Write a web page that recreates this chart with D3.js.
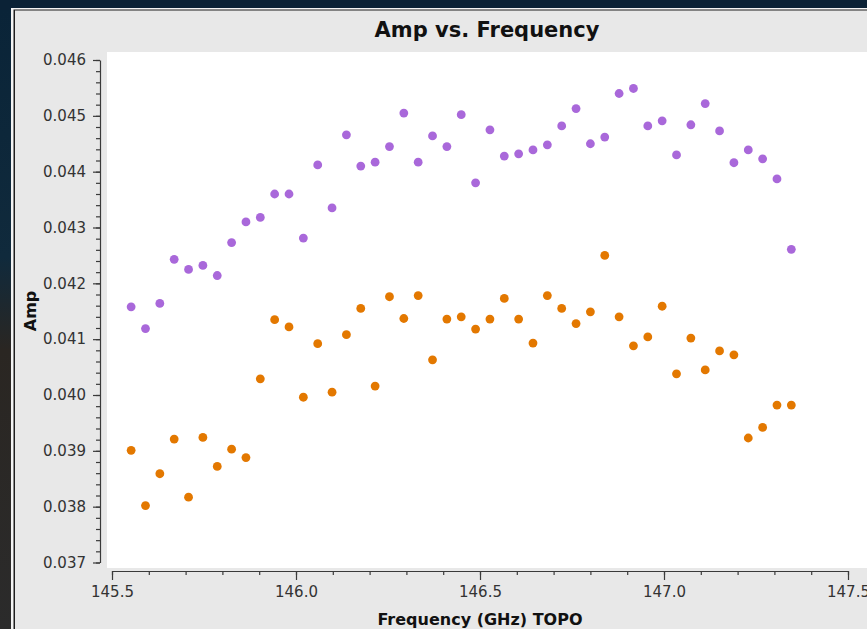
<!DOCTYPE html>
<html><head><meta charset="utf-8">
<script src="https://cdn.jsdelivr.net/npm/d3@7"></script>
<style>body{margin:0;padding:0;overflow:hidden;background:#0b2236}</style>
</head><body>
<script>
const title = "Amp vs. Frequency";
const xLabel = "Frequency (GHz) TOPO";
const yLabel = "Amp";
const frequencies = [145.552,145.591,145.630,145.669,145.708,145.747,145.786,145.825,145.864,145.903,
  145.942,145.981,146.020,146.059,146.098,146.137,146.176,146.215,146.254,146.293,
  146.332,146.371,146.410,146.449,146.488,146.527,146.566,146.605,146.644,146.683,
  146.722,146.761,146.800,146.839,146.878,146.917,146.956,146.995,147.034,147.073,
  147.112,147.151,147.190,147.229,147.268,147.307,147.346];
const ampPurple = [0.04158,0.04119,0.04164,0.04243,0.04225,0.04232,0.04214,0.04273,0.04310,0.04318,
  0.04360,0.04360,0.04281,0.04412,0.04335,0.04466,0.04410,0.04417,0.04445,0.04505,
  0.04417,0.04464,0.04445,0.04502,0.04380,0.04475,0.04428,0.04432,0.04439,0.04448,
  0.04482,0.04513,0.04450,0.04462,0.04540,0.04549,0.04482,0.04491,0.04430,0.04484,
  0.04522,0.04473,0.04416,0.04439,0.04423,0.04387,0.04261];
const ampOrange = [0.03901,0.03802,0.03859,0.03921,0.03817,0.03924,0.03872,0.03903,0.03888,0.04029,
  0.04135,0.04122,0.03996,0.04092,0.04005,0.04108,0.04155,0.04016,0.04176,0.04137,
  0.04178,0.04063,0.04136,0.04140,0.04118,0.04136,0.04173,0.04136,0.04093,0.04178,
  0.04155,0.04128,0.04149,0.04250,0.04140,0.04088,0.04104,0.04159,0.04038,0.04102,
  0.04045,0.04079,0.04072,0.03923,0.03942,0.03982,0.03982];
const xTicks = [145.5,146.0,146.5,147.0,147.5];
const yTicks = [0.037,0.038,0.039,0.040,0.041,0.042,0.043,0.044,0.045,0.046];

const W = 867, H = 629;
const svg = d3.select("body").append("svg").attr("width", W).attr("height", H)
  .style("display","block");
const font = "'DejaVu Sans', sans-serif";

// desktop background
const defs = svg.append("defs");
const g1 = defs.append("linearGradient").attr("id","bg").attr("x1",0).attr("y1",0).attr("x2",0).attr("y2",1);
g1.append("stop").attr("offset","0").attr("stop-color","#0a2438");
g1.append("stop").attr("offset","0.4").attr("stop-color","#102a3c");
g1.append("stop").attr("offset","0.55").attr("stop-color","#2a2622");
g1.append("stop").attr("offset","1").attr("stop-color","#2b2b2b");
svg.append("rect").attr("width",W).attr("height",H).attr("fill","#0b2236");
svg.append("rect").attr("x",0).attr("y",10).attr("width",13).attr("height",H-10).attr("fill","url(#bg)");

// window
svg.append("rect").attr("x",11).attr("y",8).attr("width",W).attr("height",H).attr("fill","#f4f4f4");
svg.append("rect").attr("x",13.5).attr("y",9.5).attr("width",W).attr("height",H).attr("fill","#1e1e1e");
svg.append("rect").attr("x",15).attr("y",10.5).attr("width",W).attr("height",H).attr("fill","#e8e8e8");

// plot area
svg.append("rect").attr("x",107).attr("y",52).attr("width",W-107).attr("height",568-52).attr("fill","#ffffff");

const x = d3.scaleLinear().domain([145.5,147.5]).range([112,848]);
const y = d3.scaleLinear().domain([0.037,0.046]).range([562.5,60]);

const axisColor = "#3a3a3a";
// x axis
const xMinor = d3.range(145.5, 147.5001, 0.1).map(v => +v.toFixed(1));
const xa = svg.append("g").attr("transform","translate(0,571)");
xa.append("g").call(d3.axisBottom(x).tickValues(xMinor).tickSize(4).tickFormat(""))
  .call(g => g.select(".domain").remove());
xa.append("g").call(d3.axisBottom(x).tickValues(xTicks).tickSize(9).tickSizeOuter(0).tickPadding(6).tickFormat(d3.format(".1f")));
xa.selectAll("line,path").attr("stroke",axisColor).attr("stroke-width",1.2);
xa.selectAll("text").attr("fill","#333").style("font-family",font).style("font-size","15px");

// y axis
const yMinor = d3.range(0,46).map(i => +(0.037 + i*0.0002).toFixed(4));
const ya = svg.append("g").attr("transform","translate(100,0)");
ya.append("g").call(d3.axisLeft(y).tickValues(yMinor).tickSize(4).tickFormat(""))
  .call(g => g.select(".domain").remove());
ya.append("g").call(d3.axisLeft(y).tickValues(yTicks).tickSize(7).tickSizeOuter(0).tickPadding(7).tickFormat(d3.format(".3f")));
ya.selectAll("line,path").attr("stroke",axisColor).attr("stroke-width",1.2);
ya.selectAll("text").attr("fill","#333").style("font-family",font).style("font-size","15px");

// points
const plot = svg.append("g");
plot.selectAll("circle.p").data(frequencies).join("circle").attr("class","p")
  .attr("cx",(d)=>x(d)).attr("cy",(d,i)=>y(ampPurple[i])).attr("r",4.4).attr("fill","#a968da");
plot.selectAll("circle.o").data(frequencies).join("circle").attr("class","o")
  .attr("cx",(d)=>x(d)).attr("cy",(d,i)=>y(ampOrange[i])).attr("r",4.4).attr("fill","#e37800");

// titles
svg.append("text").attr("x",487).attr("y",37).attr("text-anchor","middle")
  .style("font-family",font).style("font-weight","bold").style("font-size","21px").attr("fill","#111").text(title);
svg.append("text").attr("x",480).attr("y",625).attr("text-anchor","middle")
  .style("font-family",font).style("font-weight","bold").style("font-size","16px").attr("fill","#111").text(xLabel);
svg.append("text").attr("transform","translate(36,311) rotate(-90)").attr("text-anchor","middle")
  .style("font-family",font).style("font-weight","bold").style("font-size","16px").attr("fill","#111").text(yLabel);
</script>
</body></html>
